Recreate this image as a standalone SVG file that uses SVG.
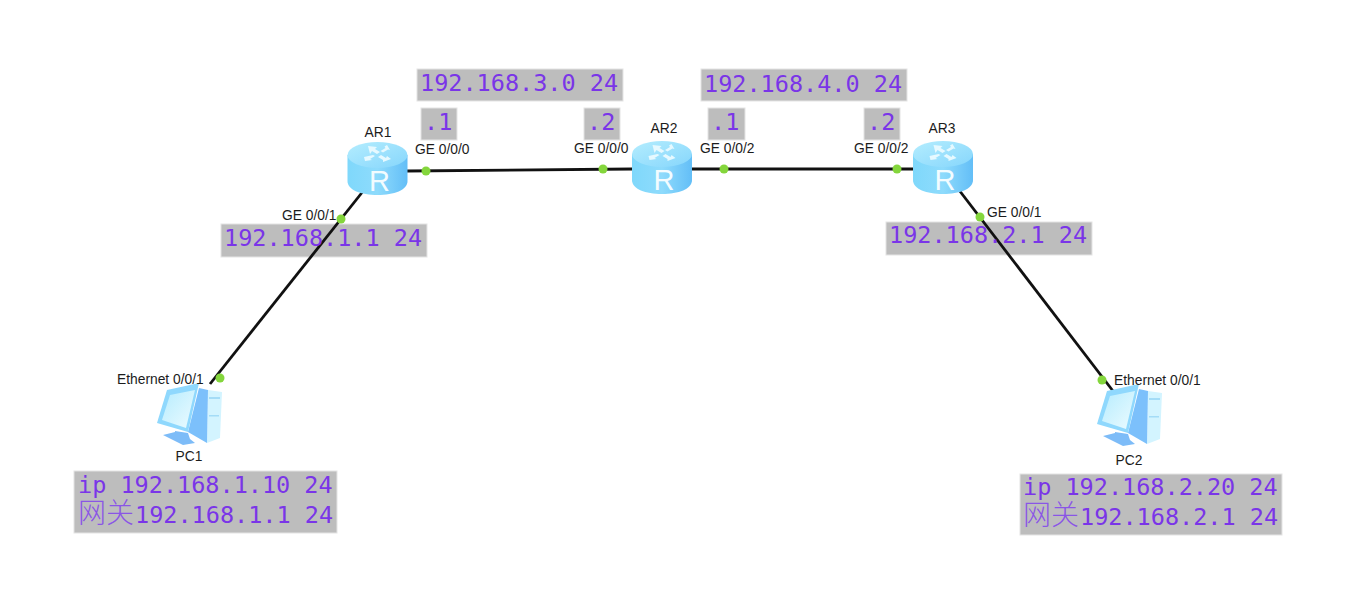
<svg xmlns="http://www.w3.org/2000/svg" width="1358" height="605" viewBox="0 0 1358 605">
<style>
.lbl{font-family:"Liberation Sans",Arial,sans-serif;font-size:13.8px;fill:#1c1c1c}
.box{fill:#bdbdbd;stroke:#e4e4e4;stroke-width:1}
.ip{font-family:"DejaVu Sans Mono","Noto Sans CJK SC",monospace;font-size:23.5px;fill:#7a35e8}
.cjk{font-family:"Noto Sans CJK SC",sans-serif;font-size:28px;font-weight:300;fill:#8a55e6}
.link{stroke:#111;stroke-width:2.8;fill:none}
.dot{fill:#84d63c}
</style>
<defs>
<linearGradient id="rb" x1="0" x2="1" y1="0" y2="0"><stop offset="0" stop-color="#7fd8fb"/><stop offset=".5" stop-color="#8edbfc"/><stop offset="1" stop-color="#63bef7"/></linearGradient>
<linearGradient id="rt" x1="0" x2="1" y1="0" y2="1"><stop offset="0" stop-color="#b4edfe"/><stop offset="1" stop-color="#86d6fc"/></linearGradient>
<linearGradient id="scr" x1="0" x2="1" y1="0" y2="1"><stop offset="0" stop-color="#b6ecfe"/><stop offset="1" stop-color="#ecfbff"/></linearGradient>
<g id="router">
<path d="M347.500 155V181C347.500 190 361 195 377.500 195S407.500 190 407.500 181V155Z" fill="url(#rb)"/>
<ellipse cx="377.500" cy="155" rx="30" ry="13" fill="url(#rt)"/>
<path d="M368 146l9 1-2 2 5 3-3 2-5-3-2 3zM387 145l3 5-2-.5-5 3-2.500-1.500 5-3-1-1.500zM364 157l9-2 2 1-5 3 2 1-7 1zM391 159l-8 3 0-2-5-3 3-2 5 3 1-2z" fill="#e6f9ff"/>
<text x="379.500" y="191" text-anchor="middle" font-family="Liberation Sans,Arial,sans-serif" font-size="29" fill="#f3fcff">R</text>
</g>
<g id="pc">
<path d="M208 390L222 392 220 438 207 443Z" fill="#d3f4ff"/>
<path d="M199 388L208 390 207 443 188 432Z" fill="#7cc0fb"/>
<path d="M175 431L188 433 190 439 195 443 183 445 163 435 175 432Z" fill="#7dbcf8"/>
<path d="M167 390L199 383 188 432 157 423Z" fill="#8fd8fd"/>
<path d="M170 395L195 390 186 428 162 420Z" fill="url(#scr)"/>
<rect x="209" y="397" width="11" height="2" fill="#a4dcf7"/><rect x="209" y="415" width="10" height="1.500" fill="#a4dcf7"/>
</g>
</defs>
<rect width="1358" height="605" fill="#fff"/>
<g id="note-boxes">
<rect class="box" x="417" y="69" width="206" height="32"/>
<rect class="box" x="701" y="69" width="206" height="32"/>
<rect class="box" x="421" y="108" width="36" height="32"/>
<rect class="box" x="584" y="108" width="36" height="32"/>
<rect class="box" x="708" y="108" width="37" height="32"/>
<rect class="box" x="864" y="108" width="36" height="32"/>
<rect class="box" x="221" y="224" width="206" height="33"/>
<rect class="box" x="886" y="222" width="206" height="33"/>
<rect class="box" x="74" y="471" width="263" height="62"/>
<rect class="box" x="1020" y="474" width="262" height="61"/>
</g>
<g id="connectors">
<path class="link" d="M407 171L632 169"/>
<path class="link" d="M692 169H914"/>
<path class="link" d="M364 190L210 384"/>
<path class="link" d="M959 190L1113 391"/>
<circle class="dot" cx="426" cy="171" r="4.500"/>
<circle class="dot" cx="603" cy="169" r="4.500"/>
<circle class="dot" cx="724" cy="169" r="4.500"/>
<circle class="dot" cx="897" cy="169" r="4.500"/>
<circle class="dot" cx="341" cy="219" r="4.500"/>
<circle class="dot" cx="220" cy="378" r="4.500"/>
<circle class="dot" cx="980" cy="217" r="4.500"/>
<circle class="dot" cx="1102" cy="380" r="4.500"/>
</g>
<g id="AR1"><use href="#router"/><text class="lbl" x="378" y="137" text-anchor="middle">AR1</text></g>
<g id="AR2"><use href="#router" x="284.500" y="-1"/><text class="lbl" x="664" y="133" text-anchor="middle">AR2</text></g>
<g id="AR3"><use href="#router" x="565.500" y="-1"/><text class="lbl" x="942" y="133" text-anchor="middle">AR3</text></g>
<g id="PC1"><use href="#pc"/><text class="lbl" x="189" y="461" text-anchor="middle">PC1</text></g>
<g id="PC2"><use href="#pc" x="940" y="1"/><text class="lbl" x="1129" y="465" text-anchor="middle">PC2</text></g>
<g id="port-labels">
<text class="lbl" x="415" y="154">GE 0/0/0</text>
<text class="lbl" x="574" y="153">GE 0/0/0</text>
<text class="lbl" x="700" y="153">GE 0/0/2</text>
<text class="lbl" x="854" y="153">GE 0/0/2</text>
<text class="lbl" x="282" y="220">GE 0/0/1</text>
<text class="lbl" x="987" y="217">GE 0/0/1</text>
<text class="lbl" x="117" y="384">Ethernet 0/0/1</text>
<text class="lbl" x="1114" y="385">Ethernet 0/0/1</text>
</g>
<g id="note-text">
<text class="ip" x="420" y="91">192.168.3.0 24</text>
<text class="ip" x="704" y="92">192.168.4.0 24</text>
<text class="ip" x="424" y="130">.1</text>
<text class="ip" x="587" y="130">.2</text>
<text class="ip" x="711" y="130">.1</text>
<text class="ip" x="867" y="130">.2</text>
<text class="ip" x="224" y="246">192.168.1.1 24</text>
<text class="ip" x="889" y="243">192.168.2.1 24</text>
<text class="ip" x="78" y="493">ip 192.168.1.10 24</text>
<text class="ip" x="78" y="523"><tspan class="cjk">网关</tspan><tspan x="135">192.168.1.1 24</tspan></text>
<text class="ip" x="1023" y="495">ip 192.168.2.20 24</text>
<text class="ip" x="1023" y="525"><tspan class="cjk">网关</tspan><tspan x="1080">192.168.2.1 24</tspan></text>
</g>
</svg>
